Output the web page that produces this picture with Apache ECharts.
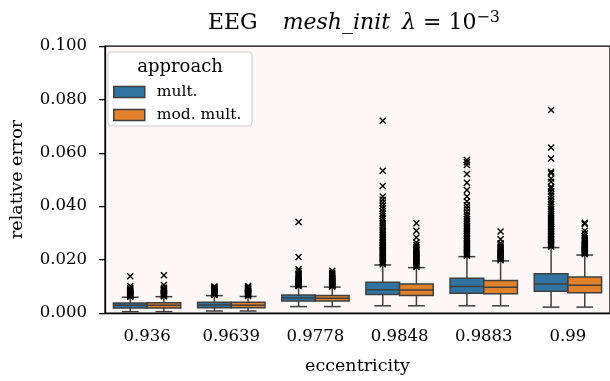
<!DOCTYPE html>
<html>
<head>
<meta charset="utf-8">
<script src="https://cdn.jsdelivr.net/npm/echarts@6/dist/echarts.min.js"></script>
<style>html,body{margin:0;padding:0;background:#fff;}#c{width:610px;height:381px;}</style>
</head>
<body>
<div id="c"></div>
<script>
const categories = ['0.936', '0.9639', '0.9778', '0.9848', '0.9883', '0.99'];
const seriesNames = ['mult.', 'mod. mult.'];
// [lower whisker, Q1, median, Q3, upper whisker]
const multBox = [
  [0.0005, 0.0019, 0.0029, 0.0037, 0.0059],
  [0.00075, 0.0020, 0.0030, 0.0040, 0.0065],
  [0.0024, 0.0045, 0.0056, 0.0067, 0.0099],
  [0.0027, 0.0069, 0.0087, 0.0115, 0.0180],
  [0.0027, 0.0074, 0.0099, 0.0130, 0.0211],
  [0.0022, 0.0081, 0.0109, 0.0147, 0.0245]
];
const modBox = [
  [0.0005, 0.0019, 0.0029, 0.0038, 0.0061],
  [0.00075, 0.0020, 0.0029, 0.0040, 0.0062],
  [0.0024, 0.0045, 0.0055, 0.0066, 0.0097],
  [0.0027, 0.0066, 0.0086, 0.0109, 0.0170],
  [0.0027, 0.0072, 0.0096, 0.0122, 0.0195],
  [0.0022, 0.0076, 0.0104, 0.0135, 0.0217]
];
const multOutliers = [
  [0.0061, 0.0063, 0.0064, 0.0066, 0.0068, 0.0069, 0.0071, 0.0073, 0.0075, 0.0077, 0.0079, 0.0082, 0.0085, 0.0089, 0.0094, 0.0101, 0.0138],
  [0.0067, 0.0069, 0.0071, 0.0073, 0.0075, 0.0077, 0.0079, 0.0081, 0.0083, 0.0085, 0.0088, 0.0091, 0.0094, 0.0097, 0.0099],
  [0.0101, 0.0103, 0.0105, 0.0107, 0.0109, 0.0111, 0.0113, 0.0115, 0.0117, 0.0119, 0.0122, 0.0125, 0.0128, 0.0132, 0.0137, 0.0142, 0.0148, 0.0156, 0.0164, 0.0210, 0.0341],
  [0.0183, 0.0188, 0.0192, 0.0197, 0.0201, 0.0206, 0.0210, 0.0215, 0.0219, 0.0224, 0.0228, 0.0233, 0.0237, 0.0242, 0.0246, 0.0251, 0.0256, 0.0262, 0.0267, 0.0273, 0.0279, 0.0285, 0.0291, 0.0298, 0.0305, 0.0312, 0.0320, 0.0328, 0.0336, 0.0345, 0.0354, 0.0363, 0.0372, 0.0381, 0.0391, 0.0401, 0.0412, 0.0424, 0.0436, 0.0476, 0.0533, 0.0720],
  [0.0214, 0.0219, 0.0224, 0.0229, 0.0234, 0.0239, 0.0244, 0.0249, 0.0254, 0.0259, 0.0264, 0.0270, 0.0276, 0.0282, 0.0288, 0.0294, 0.0300, 0.0307, 0.0314, 0.0321, 0.0328, 0.0336, 0.0344, 0.0352, 0.0361, 0.0370, 0.0380, 0.0392, 0.0404, 0.0418, 0.0436, 0.0461, 0.0488, 0.0521, 0.0554, 0.0565, 0.0573],
  [0.0248, 0.0253, 0.0258, 0.0263, 0.0268, 0.0273, 0.0278, 0.0284, 0.0290, 0.0296, 0.0302, 0.0308, 0.0314, 0.0320, 0.0327, 0.0334, 0.0341, 0.0348, 0.0356, 0.0364, 0.0372, 0.0380, 0.0389, 0.0398, 0.0407, 0.0416, 0.0426, 0.0436, 0.0446, 0.0456, 0.0466, 0.0473, 0.0492, 0.0504, 0.0523, 0.0529, 0.0579, 0.0620, 0.0760]
];
const modOutliers = [
  [0.0063, 0.0065, 0.0066, 0.0068, 0.0070, 0.0072, 0.0074, 0.0076, 0.0079, 0.0082, 0.0086, 0.0090, 0.0095, 0.0105, 0.0141],
  [0.0064, 0.0066, 0.0068, 0.0070, 0.0072, 0.0074, 0.0076, 0.0078, 0.0080, 0.0083, 0.0086, 0.0089, 0.0092, 0.0095, 0.0098, 0.0101],
  [0.0099, 0.0101, 0.0103, 0.0105, 0.0107, 0.0109, 0.0111, 0.0113, 0.0115, 0.0117, 0.0119, 0.0121, 0.0124, 0.0127, 0.0130, 0.0133, 0.0137, 0.0141, 0.0146, 0.0151, 0.0158],
  [0.0172, 0.0176, 0.0180, 0.0184, 0.0188, 0.0192, 0.0196, 0.0200, 0.0204, 0.0208, 0.0212, 0.0216, 0.0220, 0.0225, 0.0230, 0.0235, 0.0241, 0.0248, 0.0256, 0.0264, 0.0283, 0.0308, 0.0336],
  [0.0198, 0.0201, 0.0204, 0.0207, 0.0210, 0.0213, 0.0216, 0.0219, 0.0222, 0.0226, 0.0230, 0.0234, 0.0238, 0.0243, 0.0248, 0.0254, 0.0261, 0.0276, 0.0305],
  [0.0220, 0.0223, 0.0226, 0.0229, 0.0232, 0.0235, 0.0238, 0.0241, 0.0244, 0.0247, 0.0251, 0.0255, 0.0259, 0.0264, 0.0269, 0.0273, 0.0280, 0.0288, 0.0298, 0.0308, 0.0333, 0.0338]
];
const yMin = 0, yMax = 0.1, yStep = 0.02;

const BLUE = '#3274a1', ORANGE = '#e1812c', LINE = '#3f3f3f';
const FONT = 'DejaVu Serif';
const SHIFT = 0.2, BOX_FRAC = 0.4;

function boxRenderer(shift, fill) {
  return function (params, api) {
    const i = api.value(0);
    const band = api.size([1, 0])[0];
    const cx = api.coord([i, 0])[0] + shift * band;
    const w = band * BOX_FRAC;
    const y0 = api.coord([i, api.value(1)])[1];
    const y1 = api.coord([i, api.value(2)])[1];
    const y2 = api.coord([i, api.value(3)])[1];
    const y3 = api.coord([i, api.value(4)])[1];
    const y4 = api.coord([i, api.value(5)])[1];
    const ls = { stroke: LINE, lineWidth: 1.5 };
    return {
      type: 'group',
      children: [
        { type: 'line', shape: { x1: cx, y1: y1, x2: cx, y2: y0 }, style: ls },
        { type: 'line', shape: { x1: cx, y1: y3, x2: cx, y2: y4 }, style: ls },
        { type: 'line', shape: { x1: cx - w / 4, y1: y0, x2: cx + w / 4, y2: y0 }, style: ls },
        { type: 'line', shape: { x1: cx - w / 4, y1: y4, x2: cx + w / 4, y2: y4 }, style: ls },
        { type: 'rect', shape: { x: cx - w / 2, y: y3, width: w, height: y1 - y3 }, style: { fill: fill, stroke: LINE, lineWidth: 1.5 } },
        { type: 'line', shape: { x1: cx - w / 2, y1: y2, x2: cx + w / 2, y2: y2 }, style: ls }
      ]
    };
  };
}

function boxData(arr) { return arr.map((b, i) => [i].concat(b)); }
function outlierData(arr, shift) {
  const out = [];
  arr.forEach((vals, i) => vals.forEach(v => out.push([i + shift, v])));
  return out;
}

const X_MARK = 'path://M0 0L10 10M10 0L0 10';

const chart = echarts.init(document.getElementById('c'), null, { renderer: 'canvas' });
chart.setOption({
  animation: false,
  backgroundColor: '#ffffff',
  grid: { left: 101, top: 46, width: 512, height: 267, show: true, backgroundColor: '#fdf8f7', borderColor: '#000', borderWidth: 1.25, containLabel: false },
  graphic: [
    {
      type: 'text', x: 354, y: 23, z: 10,
      style: {
        text: '{n|EEG}{g| }{i|mesh_init}{h| }{i|λ}{n| = 10}{sup|−3}',
        align: 'center', verticalAlign: 'middle',
        rich: {
          n: { fontFamily: FONT, fontSize: 22, lineHeight: 26, fill: '#000' },
          i: { fontFamily: FONT, fontSize: 22, fontStyle: 'italic', lineHeight: 26, fill: '#000' },
          g: { fontFamily: FONT, fontSize: 22, width: 25, lineHeight: 26 },
          h: { fontFamily: FONT, fontSize: 22, width: 12, lineHeight: 26 },
          sup: { fontFamily: FONT, fontSize: 16, lineHeight: 8, verticalAlign: 'top', fill: '#000' }
        }
      }
    },
    {
      type: 'rect', z: 8,
      shape: { x: 108, y: 52, width: 144, height: 74, r: 3 },
      style: { fill: 'rgba(255,255,255,0.8)', stroke: '#cccccc', lineWidth: 1 }
    },
    {
      type: 'text', x: 180, y: 67, z: 9,
      style: { text: 'approach', fontFamily: FONT, fontSize: 18, fill: '#000', align: 'center', verticalAlign: 'middle' }
    }
  ],
  legend: {
    z: 10,
    orient: 'vertical', left: 113, top: 84, padding: 0,
    itemWidth: 31, itemHeight: 11, itemGap: 7,
    data: seriesNames.map(n => ({ name: n, icon: 'rect' })),
    itemStyle: { borderColor: LINE, borderWidth: 1.5 },
    textStyle: { fontFamily: FONT, fontSize: 15.5, lineHeight: 14, color: '#000', padding: [0, 0, 0, 7] }
  },
  xAxis: [
    {
      type: 'category', data: categories, boundaryGap: true,
      axisLine: { lineStyle: { color: '#000', width: 1.25 } },
      axisTick: { alignWithLabel: true, length: 6, lineStyle: { color: '#000', width: 1.25 } },
      axisLabel: { fontFamily: FONT, fontSize: 16.5, color: '#000', margin: 15 },
      name: 'eccentricity', nameLocation: 'middle', nameGap: 44,
      nameTextStyle: { fontFamily: FONT, fontSize: 17.5, color: '#000' },
      splitLine: { show: false }
    },
    { type: 'value', min: -0.5, max: 5.5, show: false, axisLine: { show: false, onZero: false } }
  ],
  yAxis: {
    type: 'value', min: yMin, max: yMax, interval: yStep,
    axisLine: { show: true, onZero: false, lineStyle: { color: '#000', width: 1.25 } },
    axisTick: { show: true, length: 6, lineStyle: { color: '#000', width: 1.25 } },
    axisLabel: { fontFamily: FONT, fontSize: 16.5, color: '#000', margin: 18, formatter: v => v.toFixed(3) },
    splitLine: { show: false },
    name: 'relative error', nameLocation: 'middle', nameGap: 79, nameRotate: 90,
    nameTextStyle: { fontFamily: FONT, fontSize: 17.5, color: '#000' }
  },
  series: [
    {
      name: seriesNames[0], type: 'custom', xAxisIndex: 0, z: 3,
      itemStyle: { color: BLUE },
      renderItem: boxRenderer(-SHIFT, BLUE),
      encode: { x: 0, y: [1, 2, 3, 4, 5] },
      data: boxData(multBox)
    },
    {
      name: seriesNames[1], type: 'custom', xAxisIndex: 0, z: 3,
      itemStyle: { color: ORANGE },
      renderItem: boxRenderer(SHIFT, ORANGE),
      encode: { x: 0, y: [1, 2, 3, 4, 5] },
      data: boxData(modBox)
    },
    {
      name: 'mult. outliers', type: 'scatter', xAxisIndex: 1, z: 4, silent: true,
      symbol: X_MARK, symbolSize: 6,
      itemStyle: { color: '#000', borderColor: '#000', borderWidth: 1.4, opacity: 1 },
      data: outlierData(multOutliers, -SHIFT)
    },
    {
      name: 'mod. mult. outliers', type: 'scatter', xAxisIndex: 1, z: 4, silent: true,
      symbol: X_MARK, symbolSize: 6,
      itemStyle: { color: '#000', borderColor: '#000', borderWidth: 1.4, opacity: 1 },
      data: outlierData(modOutliers, SHIFT)
    }
  ]
});
</script>
</body>
</html>
